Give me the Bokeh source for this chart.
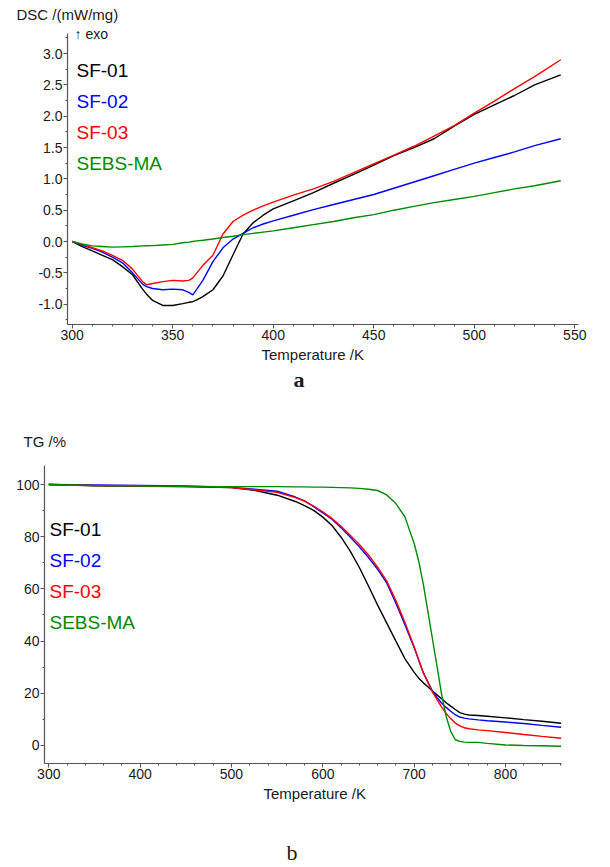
from bokeh.plotting import figure
from bokeh.layouts import column
from bokeh.models import Range1d, SingleIntervalTicker, PrintfTickFormatter, Label, Title
from bokeh.embed import file_html
from bokeh.resources import INLINE

# ---------------- DSC data ----------------
dsc_T = [300, 305, 310, 315, 320, 325, 330, 335, 337, 340, 345, 350, 355, 358, 360, 362, 365,
         370, 375, 380, 385, 390, 395, 400, 410, 420, 430, 440, 450, 460, 470, 480, 490, 500,
         510, 520, 530, 543]
dsc_sf01 = [0.00, -0.08, -0.15, -0.22, -0.29, -0.40, -0.53, -0.76, -0.84, -0.94, -1.02, -1.02,
            -0.99, -0.97, -0.96, -0.93, -0.88, -0.77, -0.55, -0.21, 0.12, 0.30, 0.42, 0.52,
            0.65, 0.78, 0.93, 1.07, 1.22, 1.37, 1.50, 1.64, 1.84, 2.03, 2.18, 2.33, 2.50, 2.66]
dsc_sf02 = [0.00, -0.06, -0.11, -0.17, -0.25, -0.34, -0.50, -0.68, -0.72, -0.75, -0.77, -0.76,
            -0.77, -0.81, -0.85, -0.76, -0.62, -0.32, -0.10, 0.04, 0.13, 0.22, 0.28, 0.33,
            0.42, 0.51, 0.59, 0.67, 0.75, 0.85, 0.95, 1.05, 1.15, 1.25, 1.34, 1.43, 1.53, 1.64]
dsc_sf03 = [0.00, -0.05, -0.10, -0.15, -0.22, -0.30, -0.44, -0.64, -0.69, -0.67, -0.64, -0.62,
            -0.63, -0.62, -0.58, -0.50, -0.38, -0.22, 0.12, 0.32, 0.42, 0.50, 0.57, 0.63,
            0.74, 0.84, 0.96, 1.10, 1.24, 1.38, 1.52, 1.68, 1.85, 2.05, 2.24, 2.44, 2.63, 2.90]
dsc_sebs = [0.00, -0.04, -0.07, -0.08, -0.09, -0.085, -0.08, -0.07, -0.068, -0.065, -0.055,
            -0.045, -0.02, -0.01, 0.00, 0.01, 0.02, 0.04, 0.065, 0.085, 0.11, 0.13, 0.15, 0.17,
            0.22, 0.27, 0.32, 0.38, 0.43, 0.50, 0.56, 0.62, 0.67, 0.72, 0.78, 0.84, 0.89, 0.97]

# ---------------- TG data ----------------
tg_T = [300, 350, 400, 450, 500, 525, 550, 570, 580, 590, 600, 610, 620, 630, 640, 650, 660,
        670, 680, 690, 700, 705, 710, 715, 720, 725, 730, 735, 740, 745, 750, 755, 760, 770,
        780, 800, 820, 840, 861]
tg_sf01 = [100.0, 99.5, 99.3, 99.2, 98.8, 97.8, 95.9, 93.5, 91.9, 90.1, 87.5, 84.3, 79.8, 74.5,
           68.2, 61.1, 53.8, 46.9, 40.0, 33.2, 28.0, 25.8, 24.0, 22.5, 20.9, 19.4, 17.9, 16.4,
           15.1, 13.8, 12.6, 12.0, 11.7, 11.5, 11.2, 10.6, 9.9, 9.3, 8.5]
tg_sf02 = [100.0, 99.8, 99.6, 99.4, 98.9, 98.2, 97.4, 95.2, 93.7, 91.5, 89.1, 86.7, 83.4, 79.9,
           76.1, 72.0, 67.5, 62.3, 54.5, 46.2, 37.5, 32.7, 27.8, 24.4, 20.9, 18.4, 16.3, 14.6,
           13.1, 11.8, 10.9, 10.5, 10.2, 9.8, 9.5, 9.0, 8.4, 7.7, 7.0]
tg_sf03 = [100.0, 99.6, 99.4, 99.2, 98.8, 98.0, 97.0, 95.0, 93.6, 91.7, 89.5, 87.0, 84.0, 80.6,
           77.0, 73.0, 68.3, 63.0, 55.5, 47.0, 37.8, 32.9, 28.0, 24.2, 20.5, 17.6, 14.8, 12.3,
           10.3, 8.6, 7.5, 6.8, 6.4, 6.0, 5.7, 5.0, 4.2, 3.5, 2.8]
tg_sebs = [100.0, 99.6, 99.4, 99.3, 99.2, 99.2, 99.2, 99.1, 99.1, 99.0, 99.0, 98.9, 98.8, 98.7,
           98.5, 98.2, 97.7, 96.0, 92.7, 87.5, 77.4, 70.6, 61.8, 51.4, 40.9, 30.4, 19.7, 11.2,
           5.4, 2.2, 1.6, 1.3, 1.2, 1.2, 0.8, 0.2, 0.0, -0.1, -0.3]

names = ["SF-01", "SF-02", "SF-03", "SEBS-MA"]
colors = ["#000000", "#0000ff", "#ff0000", "#008a00"]
x_label = "Temperature /K"

SANS = "Liberation Sans"
SERIF = "Liberation Serif"
AXC = "#555555"
TXC = "#1a1a1a"


def style(p):
    p.grid.visible = False
    p.outline_line_color = None
    p.background_fill_color = "white"
    p.border_fill_color = "white"
    p.frame_align = False
    for ax in (p.xaxis[0], p.yaxis[0]):
        ax.axis_line_color = AXC
        ax.axis_line_width = 1.2
        ax.major_tick_line_color = AXC
        ax.minor_tick_line_color = AXC
        ax.major_tick_out = 4
        ax.major_tick_in = 0
        ax.minor_tick_out = 2
        ax.minor_tick_in = 0
        ax.major_label_text_font = SANS
        ax.major_label_text_font_size = "14px"
        ax.major_label_text_color = TXC
        ax.major_label_standoff = 1


def lab(p, text, x, y, color=TXC, size="14px"):
    p.add_layout(Label(x=x, y=y, x_units="screen", y_units="screen", text=text,
                       text_color=color, text_font_size=size, text_font=SANS,
                       text_align="left", text_baseline="middle"))


def title(p, text, place, offset, standoff, size="15px", font=SANS, bold=False):
    p.add_layout(Title(text=text, align="left", offset=offset, standoff=standoff,
                       text_font=font, text_font_size=size,
                       text_font_style="bold" if bold else "normal", text_color=TXC),
                 place)


# ---------------- top: DSC ----------------
p1 = figure(width=610, height=408, output_backend="svg", toolbar_location=None,
            x_range=Range1d(297.66, 551.84), y_range=Range1d(-1.324, 3.447),
            min_border_left=67, min_border_right=32, min_border_top=25, min_border_bottom=84)
style(p1)
p1.xaxis[0].ticker = SingleIntervalTicker(interval=50, num_minor_ticks=5)
p1.yaxis[0].ticker = SingleIntervalTicker(interval=0.5, num_minor_ticks=2)
p1.yaxis[0].formatter = PrintfTickFormatter(format="%.1f")
p1.yaxis[0].bounds = (-1.324, 3.32)
for ys, c in zip([dsc_sf01, dsc_sf02, dsc_sf03, dsc_sebs], colors):
    p1.line(dsc_T, ys, line_color=c, line_width=1.4)

title(p1, "DSC /(mW/mg)", "above", -51, 6)
lab(p1, "\u2191 exo", 7, 291, size="14px")
for i, (n, c) in enumerate(zip(names, colors)):
    lab(p1, n, 9, [254, 223, 192, 161][i], color=c, size="19px")
title(p1, x_label, "below", 194, 2)
title(p1, "a", "below", 226, 2, size="22px", font=SERIF, bold=True)

# ---------------- bottom: TG ----------------
p2 = figure(width=610, height=459, output_backend="svg", toolbar_location=None,
            x_range=Range1d(295.3, 861.3), y_range=Range1d(-6.9, 107.28),
            min_border_left=44, min_border_right=49, min_border_top=57, min_border_bottom=104)
style(p2)
p2.xaxis[0].ticker = SingleIntervalTicker(interval=100, num_minor_ticks=5)
p2.yaxis[0].ticker = SingleIntervalTicker(interval=20, num_minor_ticks=2)
for ys, c in zip([tg_sf01, tg_sf02, tg_sf03, tg_sebs], colors):
    p2.line(tg_T, ys, line_color=c, line_width=1.4)

title(p2, "TG /%", "above", -21, 31)
for i, (n, c) in enumerate(zip(names, colors)):
    lab(p2, n, 5, [234, 203, 172, 141][i], color=c, size="19px")
title(p2, x_label, "below", 219, 2)
title(p2, " ", "below", 0, 16)
title(p2, "b", "below", 242, 0, size="22px", font=SERIF)

layout = column(p1, p2, spacing=0)
open("out.html", "w").write(file_html(layout, INLINE))
